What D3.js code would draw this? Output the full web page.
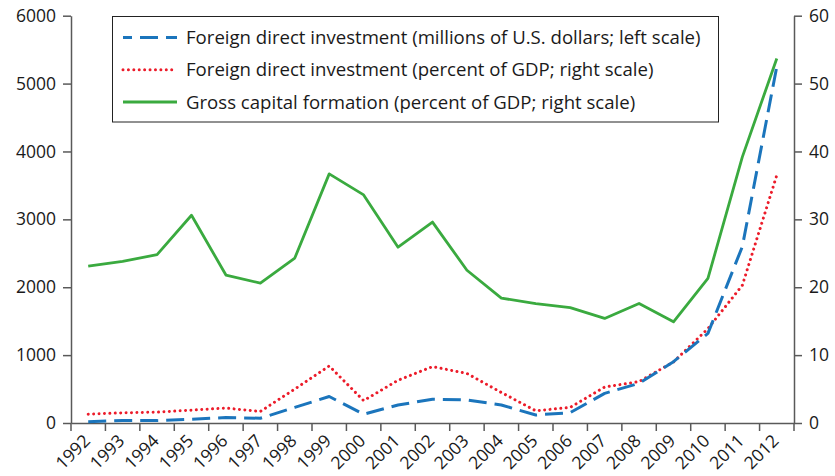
<!DOCTYPE html>
<html>
<head>
<meta charset="utf-8">
<script src="https://cdn.jsdelivr.net/npm/d3@7"></script>
<style>
  body { margin: 0; background: #fff; }
  svg { display: block; font-family: "Open Sans", sans-serif; }
</style>
</head>
<body>
<svg id="chart" width="835" height="476"></svg>
<script>
// FDI and gross capital formation, 1992-2012
var years = ["1992", "1993", "1994", "1995", "1996", "1997", "1998", "1999", "2000", "2001",
    "2002", "2003", "2004", "2005", "2006", "2007", "2008", "2009", "2010", "2011", "2012"];

// millions of U.S. dollars (left scale)
var fdiUsd = [20, 35, 35, 55, 80, 70, 230, 390, 130, 265,
    350, 340, 265, 118, 152, 437, 585, 903, 1320, 2600, 5250];

// percent of GDP (right scale)
var fdiPct = [1.3, 1.5, 1.6, 1.9, 2.2, 1.7, 5.0, 8.4, 3.3, 6.3,
    8.3, 7.3, 4.5, 1.8, 2.3, 5.3, 6.1, 9.0, 13.9, 20.3, 36.5];
var gcfPct = [23.1, 23.8, 24.8, 30.6, 21.8, 20.6, 24.3, 36.7, 33.6, 25.9,
    29.6, 22.5, 18.4, 17.6, 17.0, 15.4, 17.6, 14.9, 21.3, 39.2, 53.7];

var leftTicks = [0, 1000, 2000, 3000, 4000, 5000, 6000];
var rightTicks = [0, 10, 20, 30, 40, 50, 60];

var legendItems = [
    { label: "Foreign direct investment (millions of U.S. dollars; left scale)", kind: "usd" },
    { label: "Foreign direct investment (percent of GDP; right scale)", kind: "pct" },
    { label: "Gross capital formation (percent of GDP; right scale)", kind: "gcf" }
];

(function () {
    "use strict";

    var axisColour = "#595959";
    var textColour = "#1a1a1a";
    var style = {
        usd: { stroke: "#1b75bc", width: 3, dash: "18 8" },
        pct: { stroke: "#ec1c2a", width: 3, dash: "0.01 5.4", cap: "round" },
        gcf: { stroke: "#3aaa3f", width: 2.8, dash: null }
    };

    var plotLeft = 71, plotRight = 794, plotTop = 15.7, plotBottom = 423;

    var svg = d3.select("#chart");

    var x = d3.scaleBand().domain(years).range([plotLeft, plotRight]).padding(0);
    var yL = d3.scaleLinear().domain([0, 6000]).range([plotBottom, plotTop]);
    var yR = d3.scaleLinear().domain([0, 60]).range([plotBottom, plotTop]);
    var cx = function (d) { return x(d) + x.bandwidth() / 2; };

    // axes
    var gL = svg.append("g")
        .attr("transform", "translate(" + plotLeft + ",0)")
        .call(d3.axisLeft(yL).tickValues(leftTicks).tickSize(8).tickSizeOuter(0)
            .tickPadding(7).tickFormat(d3.format("d")));
    var gR = svg.append("g")
        .attr("transform", "translate(" + plotRight + ",0)")
        .call(d3.axisRight(yR).tickValues(rightTicks).tickSize(8).tickSizeOuter(0).tickPadding(7));
    var gX = svg.append("g")
        .attr("transform", "translate(0," + plotBottom + ")")
        .call(d3.axisBottom(x).tickSize(8).tickSizeOuter(0));

    // ticks sit on the band edges, not the centres
    gX.selectAll(".tick line").attr("x1", -x.bandwidth() / 2).attr("x2", -x.bandwidth() / 2);
    gX.append("line")
        .attr("x1", plotRight).attr("x2", plotRight).attr("y1", 0).attr("y2", 8);
    gX.selectAll(".tick text")
        .attr("text-anchor", "end")
        .attr("transform", "translate(3,19) rotate(-45)")
        .attr("x", 0).attr("y", 0).attr("dy", 0);

    [gL, gR, gX].forEach(function (g) {
        g.attr("font-family", null).attr("font-size", null);
        g.selectAll("path, line").attr("stroke", axisColour).attr("stroke-width", 1.5);
        g.selectAll("text").attr("fill", textColour).style("font-size", "17.5px");
    });

    // series
    function drawLine(values, scale, st) {
        var line = d3.line()
            .x(function (d, i) { return cx(years[i]); })
            .y(function (d) { return scale(d); });
        svg.append("path")
            .datum(values)
            .attr("fill", "none")
            .attr("stroke", st.stroke)
            .attr("stroke-width", st.width)
            .attr("stroke-dasharray", st.dash)
            .attr("stroke-linecap", st.cap || "butt")
            .attr("stroke-linejoin", "round")
            .attr("d", line);
    }

    drawLine(gcfPct, yR, style.gcf);
    drawLine(fdiPct, yR, style.pct);
    drawLine(fdiUsd, yL, style.usd);

    // legend
    var legend = svg.append("g");
    legend.append("rect")
        .attr("x", 112.5).attr("y", 16.5).attr("width", 606).attr("height", 105.5)
        .attr("fill", "#fff").attr("stroke", "#222").attr("stroke-width", 1);

    var rowY = d3.scalePoint().domain(d3.range(legendItems.length)).range([37.5, 102]);
    var row = legend.selectAll("g.row")
        .data(legendItems)
        .join("g")
        .attr("class", "row")
        .attr("transform", function (d, i) { return "translate(0," + rowY(i) + ")"; });

    row.append("line")
        .attr("x1", 123).attr("x2", 177).attr("y1", 0).attr("y2", 0)
        .attr("stroke", function (d) { return style[d.kind].stroke; })
        .attr("stroke-width", function (d) { return style[d.kind].width; })
        .attr("stroke-dasharray", function (d) { return style[d.kind].dash; })
        .attr("stroke-dashoffset", function (d) { return d.kind === "usd" ? 9 : 0; })
        .attr("stroke-linecap", function (d) { return style[d.kind].cap || "butt"; });

    row.append("text")
        .attr("x", 186)
        .attr("dy", "0.35em")
        .attr("fill", textColour)
        .style("font-size", "18.6px")
        .text(function (d) { return d.label; });
})();
</script>
</body>
</html>
